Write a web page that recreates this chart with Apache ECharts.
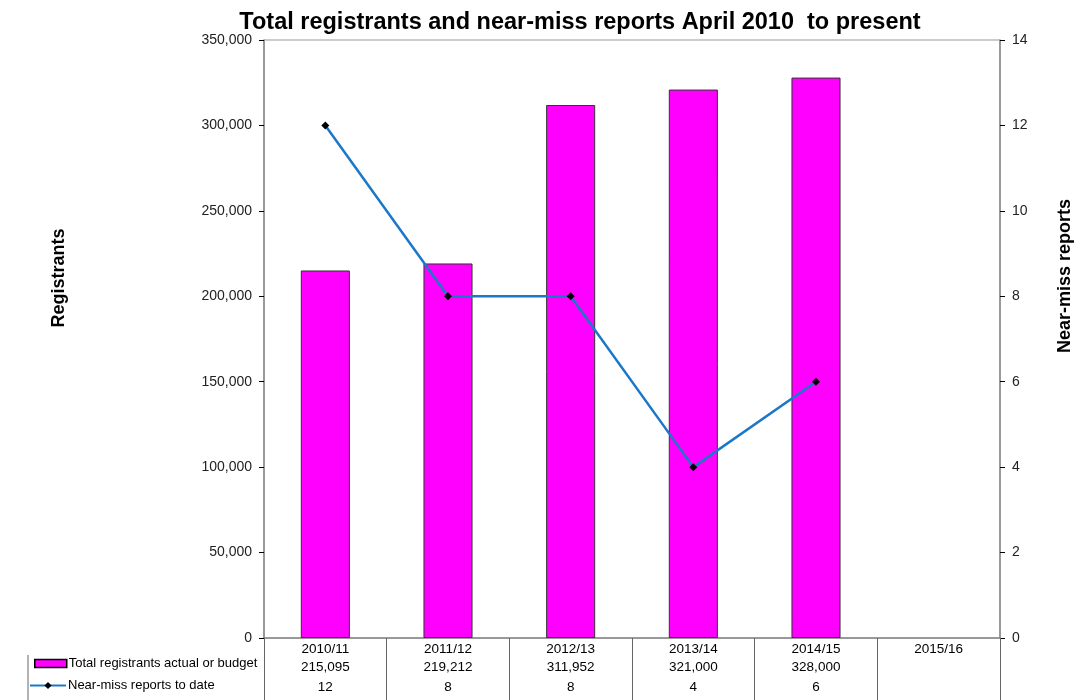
<!DOCTYPE html>
<html><head><meta charset="utf-8">
<script src="https://cdn.jsdelivr.net/npm/echarts@6/dist/echarts.min.js"></script>
<style>html,body{margin:0;padding:0;background:#fff}#c{width:1090px;height:700px}</style>
</head><body><div id="c"></div>
<script>
const categories = ['2010/11','2011/12','2012/13','2013/14','2014/15','2015/16'];
const registrants = [215095, 219212, 311952, 321000, 328000, null];
const nearMiss = [12, 8, 8, 4, 6, null];
const leftTicks = {min: 0, max: 350000, interval: 50000};
const rightTicks = {min: 0, max: 14, interval: 2};

const FONT = '"Liberation Sans", Arial, sans-serif';
const fmt = v => v == null ? '' : v.toLocaleString('en-US');
const BAR = 'Total registrants actual or budget';
const LINE = 'Near-miss reports to date';
const chart = echarts.init(document.getElementById('c'));
chart.setOption({
  animation: false,
  textStyle: {fontFamily: FONT},
  title: {text: 'Total registrants and near-miss reports April 2010  to present', left: 575, textAlign: 'center', top: 6,
    textStyle: {fontFamily: FONT, fontSize: 23.5, fontWeight: 'bold', color: '#000'}},
  grid: {left: 264, right: 90, top: 40, bottom: 62, show: true, borderColor: '#999', borderWidth: 1},
  legend: [
    {left: 34, top: 657, padding: 0, itemWidth: 32, itemHeight: 8, itemGap: 2,
      textStyle: {fontFamily: FONT, fontSize: 13, color: '#000', padding: [0, 0, 0, -3]},
      data: [{name: BAR, icon: 'rect', itemStyle: {color: '#FF00FF', borderColor: '#000', borderWidth: 1.5}}]},
    {left: 29, top: 679, padding: 0, itemWidth: 36, itemHeight: 9, itemGap: 2,
      textStyle: {fontFamily: FONT, fontSize: 13, color: '#000', padding: [0, 0, 0, -3]}, data: [LINE]}
  ],
  xAxis: {type: 'category', data: categories,
    axisLine: {lineStyle: {color: '#888', width: 1.5}},
    axisTick: {show: true, length: 62, interval: 0, lineStyle: {color: '#666'}},
    axisLabel: {interval: 0, margin: 2, color: '#000', fontSize: 13.5,
      formatter: (v, i) => '{a|' + v + '}\n{b|' + fmt(registrants[i]) + '}\n{c|' + (nearMiss[i] == null ? '' : nearMiss[i]) + '}',
      rich: {a: {lineHeight: 18, fontSize: 13.5}, b: {lineHeight: 18, fontSize: 13.5}, c: {lineHeight: 22, fontSize: 13.5}}}},
  yAxis: [
    {type: 'value', min: leftTicks.min, max: leftTicks.max, interval: leftTicks.interval,
      axisLine: {show: true, lineStyle: {color: '#888', width: 1.5}},
      axisTick: {show: true, length: 5, lineStyle: {color: '#000'}},
      splitLine: {show: false},
      axisLabel: {color: '#222', fontSize: 14, margin: 12, formatter: fmt}},
    {type: 'value', min: rightTicks.min, max: rightTicks.max, interval: rightTicks.interval, position: 'right',
      axisLine: {show: true, lineStyle: {color: '#888', width: 1.5}},
      axisTick: {show: true, length: 5, lineStyle: {color: '#000'}},
      splitLine: {show: false},
      axisLabel: {color: '#222', fontSize: 14, margin: 12}}
  ],
  graphic: [
    {type: 'text', rotation: Math.PI / 2, x: 59, y: 278, style: {text: 'Registrants', font: 'bold 18px ' + FONT, fill: '#000', textAlign: 'center', textVerticalAlign: 'middle'}},
    {type: 'text', rotation: Math.PI / 2, x: 1065, y: 276, style: {text: 'Near-miss reports', font: 'bold 18px ' + FONT, fill: '#000', textAlign: 'center', textVerticalAlign: 'middle'}},
    {type: 'line', shape: {x1: 28, y1: 655, x2: 28, y2: 700}, style: {stroke: '#666', lineWidth: 1}}
  ],
  series: [
    {name: BAR, type: 'bar', data: registrants, barWidth: '40%', yAxisIndex: 0,
      itemStyle: {color: '#FF00FF', borderColor: '#333', borderWidth: 1}},
    {name: LINE, type: 'line', data: nearMiss, yAxisIndex: 1,
      lineStyle: {color: '#1B78C8', width: 2.5}, itemStyle: {color: '#000', borderColor: '#1B78C8', borderWidth: 0},
      symbol: 'diamond', symbolSize: 8, showSymbol: true}
  ]
});
</script></body></html>
